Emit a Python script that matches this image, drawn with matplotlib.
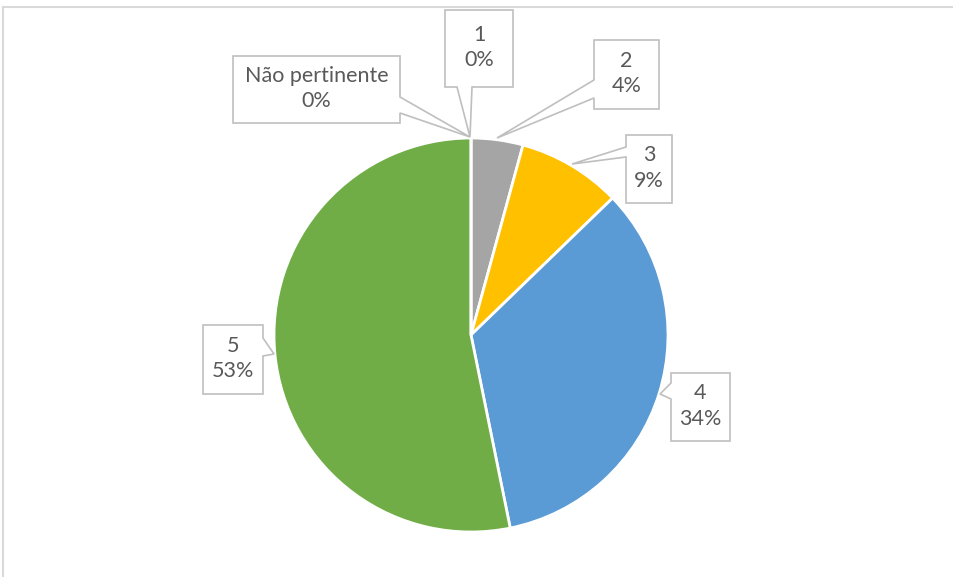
import matplotlib.pyplot as plt
from matplotlib.patches import Polygon

# data (counts, percentages shown rounded)
categories = ['1', '2', '3', '4', '5', 'Não pertinente']
counts = [0, 2, 4, 16, 25, 0]
colors = ['#5B9BD5', '#A5A5A5', '#FFC000', '#5B9BD5', '#70AD47', '#264478']

W, H = 954, 577
fig = plt.figure(figsize=(W / 100, H / 100), dpi=100)
ax = fig.add_axes([0, 0, 1, 1])
ax.set_xlim(0, W)
ax.set_ylim(0, H)
ax.set_aspect('equal')
ax.axis('off')

# chart frame (only top and left edges visible)
ax.plot([3, W], [H - 7, H - 7], color='#D9D9D9', lw=1.5)
ax.plot([3, 3], [H - 7, 0], color='#D9D9D9', lw=1.5)

ax.pie(counts, colors=colors, startangle=90, counterclock=False,
       center=(471, H - 335), radius=197,
       wedgeprops=dict(edgecolor='white', linewidth=2))
ax.set_xlim(0, W)
ax.set_ylim(0, H)

total = sum(counts)

# callout boxes: (x0, y0, x1, y1) top-down pixels, side, pointer base, tip
callouts = [
    ((445, 10, 513, 87), 'bottom', (457, 472), (470, 137)),
    ((594, 40, 659, 109), 'left', (80, 98), (497, 138)),
    ((626, 135, 672, 203), 'left', (147, 157), (572, 164)),
    ((671, 373, 730, 441), 'left', (383, 399), (660, 394)),
    ((203, 325, 263, 394), 'right', (338, 356), (274, 354)),
    ((233, 56, 400, 123), 'right', (97, 113), (470, 137)),
]


def callout_poly(box, side, base, tip):
    x0, y0, x1, y1 = box
    a, b = base
    pts = [(x0, y0), (x1, y0)]
    if side == 'right':
        pts += [(x1, a), tip, (x1, b)]
    pts.append((x1, y1))
    if side == 'bottom':
        pts += [(b, y1), tip, (a, y1)]
    pts.append((x0, y1))
    if side == 'left':
        pts += [(x0, b), tip, (x0, a)]
    return [(x, H - y) for x, y in pts]


for cat, n, (box, side, base, tip) in zip(categories, counts, callouts):
    poly = Polygon(callout_poly(box, side, base, tip), closed=True,
                   facecolor='white', edgecolor='#BFBFBF', lw=1.2, zorder=5)
    ax.add_patch(poly)
    cx = (box[0] + box[2]) / 2
    cy = (box[1] + box[3]) / 2
    ax.text(cx, H - cy + 1, f'{cat}\n{n / total:.0%}', ha='center', va='center',
            fontsize=15.5, color='#595959', family='Lato', linespacing=1.32,
            zorder=6)

fig.savefig('out.png', dpi=100)
